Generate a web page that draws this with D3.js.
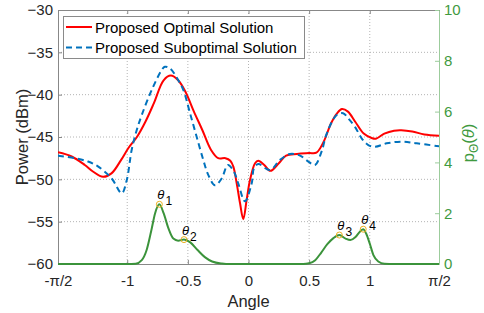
<!DOCTYPE html>
<html>
<head>
<meta charset="utf-8">
<script src="https://cdn.jsdelivr.net/npm/d3@7"></script>
<style>
  body { margin: 0; background: #fff; }
  text { font-family: "Liberation Sans", Arial, sans-serif; }
</style>
</head>
<body>
<div id="chart"></div>
<script>
// angle (rad) vs received power
var angleOptimal = [-1.571, -1.458, -1.35, -1.28, -1.20, -1.13, -1.05, -0.99, -0.92, -0.85, -0.78, -0.70, -0.64, -0.58, -0.52, -0.45, -0.38, -0.31, -0.25, -0.19, -0.15, -0.125, -0.097, -0.07, -0.043, -0.015, 0.012, 0.054, 0.08, 0.13, 0.18, 0.25, 0.31, 0.40, 0.50, 0.56, 0.62, 0.68, 0.73, 0.77, 0.82, 0.88, 0.95, 1.02, 1.05, 1.12, 1.20, 1.26, 1.35, 1.45, 1.571];
var powerOptimal = [-46.8, -47.3, -48.3, -49.1, -49.7, -49.3, -47.7, -46.3, -45.0, -43.2, -41.0, -38.3, -37.75, -38.3, -39.65, -42.0, -44.2, -46.5, -47.5, -47.5, -47.8, -48.5, -50.5, -52.8, -54.7, -52.4, -50.1, -48.1, -47.8, -48.3, -49.0, -48.1, -47.2, -47.0, -46.9, -46.85, -45.55, -43.4, -42.2, -41.7, -42.0, -43.2, -44.6, -45.15, -45.2, -44.6, -44.25, -44.2, -44.35, -44.7, -44.85];

var angleSuboptimal = [-1.571, -1.433, -1.323, -1.239, -1.128, -1.045, -1.004, -0.963, -0.922, -0.880, -0.798, -0.716, -0.69, -0.647, -0.579, -0.537, -0.482, -0.427, -0.373, -0.331, -0.276, -0.221, -0.17, -0.12, -0.084, -0.03, 0.026, 0.045, 0.081, 0.177, 0.26, 0.342, 0.425, 0.493, 0.548, 0.603, 0.645, 0.727, 0.78, 0.823, 0.878, 0.933, 0.988, 1.043, 1.139, 1.263, 1.387, 1.571];
var powerSuboptimal = [-47.2, -47.5, -47.9, -48.5, -49.9, -51.65, -50.1, -46.5, -44.2, -42.4, -39.45, -37.1, -36.7, -36.9, -38.3, -39.45, -42.2, -45.0, -47.7, -49.5, -50.7, -49.9, -48.3, -49.1, -50.5, -52.6, -50.5, -48.7, -48.2, -48.9, -47.7, -47.0, -47.2, -47.9, -48.3, -46.7, -44.6, -42.4, -42.2, -42.8, -43.8, -45.15, -45.95, -46.15, -45.75, -45.55, -45.75, -46.1];

// angle density p_theta (right axis)
var angleDensity = [-1.571, -1.0, -0.93, -0.88, -0.84, -0.80, -0.77, -0.735, -0.70, -0.66, -0.62, -0.58, -0.532, -0.48, -0.42, -0.36, -0.30, -0.22, -0.15, 0.45, 0.50, 0.55, 0.60, 0.65, 0.70, 0.749, 0.80, 0.84, 0.88, 0.92, 0.946, 0.97, 1.0, 1.03, 1.07, 1.12, 1.2, 1.571];
var density = [0, 0, 0.01, 0.15, 0.55, 1.35, 2.0, 2.35, 2.0, 1.4, 1.0, 0.92, 0.96, 0.85, 0.55, 0.27, 0.1, 0.02, 0, 0, 0.03, 0.15, 0.45, 0.78, 1.02, 1.14, 1.0, 0.94, 1.05, 1.28, 1.37, 1.2, 0.8, 0.35, 0.1, 0.01, 0, 0];

var markerNames = ["1", "2", "3", "4"];
var markerAngles = [-0.735, -0.532, 0.749, 0.946];
var markerValues = [2.35, 0.96, 1.14, 1.37];

var xTickValues = [-Math.PI / 2, -1, -0.5, 0, 0.5, 1, Math.PI / 2];
var xTickLabels = ["-\u03C0/2", "-1", "-0.5", "0", "0.5", "1", "\u03C0/2"];
var yLeftTicks = [-60, -55, -50, -45, -40, -35, -30];
var yRightTicks = [0, 2, 4, 6, 8, 10];
var legendNames = ["Proposed Optimal Solution", "Proposed Suboptimal Solution"];

var width = 484, height = 313;
var pLeft = 58, pRight = 439, pTop = 10, pBottom = 264;
var green = "#3b933b", greenText = "#3f9a3f";

var svg = d3.select("#chart").append("svg")
    .attr("width", width)
    .attr("height", height);

var x = d3.scaleLinear().domain([-Math.PI / 2, Math.PI / 2]).range([pLeft, pRight]);
var yL = d3.scaleLinear().domain([-60, -30]).range([pBottom, pTop]);
var yR = d3.scaleLinear().domain([0, 10]).range([pBottom, pTop]);

// dotted grid
var grid = svg.append("g").attr("stroke", "#b4b4b4").attr("stroke-dasharray", "1,2").attr("stroke-width", 1);
xTickValues.slice(1, -1).forEach(function (t) {
    grid.append("line").attr("x1", x(t)).attr("x2", x(t)).attr("y1", pTop).attr("y2", pBottom);
});
yLeftTicks.slice(1, -1).forEach(function (t) {
    grid.append("line").attr("x1", pLeft).attr("x2", pRight).attr("y1", yL(t)).attr("y2", yL(t));
});

// axes (MATLAB style, ticks inside)
var xAxisB = d3.axisBottom(x).tickValues(xTickValues).tickSizeInner(-4).tickSizeOuter(0)
    .tickPadding(11).tickFormat(function (d, i) { return xTickLabels[i]; });
var xAxisT = d3.axisTop(x).tickValues(xTickValues).tickSizeInner(-4).tickSizeOuter(0).tickFormat("");
var yAxisL = d3.axisLeft(yL).tickValues(yLeftTicks).tickSizeInner(-4).tickSizeOuter(0).tickPadding(5);
var yAxisR = d3.axisRight(yR).tickValues(yRightTicks).tickSizeInner(-4).tickSizeOuter(0).tickPadding(5);

function styleAxis(g, col, textCol) {
    g.selectAll(".domain").attr("stroke", col);
    g.selectAll(".tick line").attr("stroke", col);
    g.selectAll("text").attr("fill", textCol).style("font-size", "15px")
        .style("font-family", "'Liberation Sans', Arial, sans-serif");
}

svg.append("g").attr("transform", "translate(0," + pBottom + ")").call(xAxisB).call(styleAxis, "#888", "#262626");
svg.append("g").attr("transform", "translate(0," + pTop + ")").call(xAxisT).call(styleAxis, "#888", "#262626");
svg.append("g").attr("transform", "translate(" + pLeft + ",0)").call(yAxisL).call(styleAxis, "#888", "#262626");
svg.append("g").attr("transform", "translate(" + pRight + ",0)").call(yAxisR).call(styleAxis, "#9ccc9c", greenText);

// curves
svg.append("clipPath").attr("id", "plotclip").append("rect")
    .attr("x", pLeft).attr("y", pTop - 2).attr("width", pRight - pLeft).attr("height", pBottom - pTop + 4);

var lineL = d3.line()
    .x(function (d) { return x(d[0]); })
    .y(function (d) { return yL(d[1]); })
    .curve(d3.curveCatmullRom.alpha(0.5));
var lineR = d3.line()
    .x(function (d) { return x(d[0]); })
    .y(function (d) { return yR(d[1]); })
    .curve(d3.curveMonotoneX);

var plot = svg.append("g").attr("clip-path", "url(#plotclip)");

plot.append("path")
    .datum(d3.zip(angleOptimal, powerOptimal))
    .attr("d", lineL)
    .attr("fill", "none")
    .attr("stroke", "#ff0000")
    .attr("stroke-width", 2);

plot.append("path")
    .datum(d3.zip(angleSuboptimal, powerSuboptimal))
    .attr("d", lineL)
    .attr("fill", "none")
    .attr("stroke", "#0072bd")
    .attr("stroke-width", 2)
    .attr("stroke-dasharray", "6,4");

plot.append("path")
    .datum(d3.zip(angleDensity, density))
    .attr("d", lineR)
    .attr("fill", "none")
    .attr("stroke", green)
    .attr("stroke-width", 2);

// theta markers + labels
markerAngles.forEach(function (a, i) {
    var cx = x(a), cy = yR(markerValues[i]);
    svg.append("circle")
        .attr("cx", cx).attr("cy", cy).attr("r", 3)
        .attr("fill", "none").attr("stroke", "#edb120").attr("stroke-width", 1);
    var t = svg.append("text")
        .attr("x", cx - 2).attr("y", cy - 5)
        .attr("fill", "#000")
        .style("font-size", "13px");
    t.append("tspan").style("font-style", "italic").text("\u03B8");
    t.append("tspan").attr("dy", 6).attr("dx", 1).style("font-size", "12px").text(markerNames[i]);
});

// axis labels
svg.append("text")
    .attr("x", (pLeft + pRight) / 2).attr("y", 307)
    .attr("text-anchor", "middle")
    .attr("fill", "#262626")
    .style("font-size", "16.5px")
    .text("Angle");

svg.append("text")
    .attr("transform", "translate(28," + 137 + ") rotate(-90)")
    .attr("text-anchor", "middle")
    .attr("fill", "#262626")
    .style("font-size", "16.5px")
    .text("Power (dBm)");

var rl = svg.append("text")
    .attr("transform", "translate(474," + 143 + ") rotate(-90)")
    .attr("text-anchor", "middle")
    .attr("fill", greenText)
    .style("font-size", "16.5px");
rl.append("tspan").text("p");
rl.append("tspan").attr("dy", 4).style("font-size", "12px").text("\u0398");
rl.append("tspan").attr("dy", -4).text("(");
rl.append("tspan").style("font-style", "italic").text("\u03B8");
rl.append("tspan").text(")");

// legend
var legend = svg.append("g");
legend.append("rect")
    .attr("x", 63.5).attr("y", 16.5).attr("width", 241).attr("height", 42)
    .attr("fill", "#fff").attr("stroke", "#8a8a8a").attr("stroke-width", 1);
var legendColors = ["#ff0000", "#0072bd"];
var legendDash = [null, "6,4"];
legendNames.forEach(function (name, i) {
    var ly = 27 + i * 20.5;
    legend.append("line")
        .attr("x1", 66).attr("x2", 92).attr("y1", ly).attr("y2", ly)
        .attr("stroke", legendColors[i]).attr("stroke-width", 2)
        .attr("stroke-dasharray", legendDash[i]);
    legend.append("text")
        .attr("x", 95).attr("y", ly + 5.5)
        .attr("fill", "#000")
        .style("font-size", "15px")
        .text(name);
});
</script>
</body>
</html>
